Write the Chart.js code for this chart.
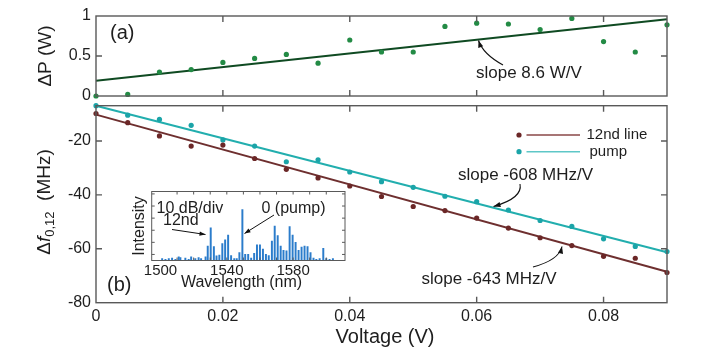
<!DOCTYPE html>
<html>
<head>
<meta charset="utf-8">
<script src="https://cdn.jsdelivr.net/npm/chart.js@4.4.0/dist/chart.umd.min.js"></script>
<style>
  html, body { margin: 0; padding: 0; background: #fff; }
  #wrap { position: relative; width: 706px; height: 352px; overflow: hidden; background: #fff; }
  canvas { position: absolute; left: 0; top: 0; }
</style>
</head>
<body>
<div id="wrap">
  <canvas id="bottomChart" width="706" height="352"></canvas>
  <canvas id="topChart" width="706" height="352"></canvas>
  <canvas id="insetChart" width="706" height="352"></canvas>
</div>
<script>
// voltage steps (V)
const voltage = [0, 0.005, 0.01, 0.015, 0.02, 0.025, 0.03, 0.035, 0.04, 0.045,
                 0.05, 0.055, 0.06, 0.065, 0.07, 0.075, 0.08, 0.085, 0.09];
// (a) power change (W)
const deltaP = [0, 0.02, 0.30, 0.33, 0.42, 0.47, 0.52, 0.41, 0.70, 0.55,
                0.55, 0.87, 0.91, 0.90, 0.83, 0.97, 0.68, 0.55, 0.89];
// (b) frequency shift (MHz)
const line12 = [-9.8, -13.2, -18.1, -21.9, -21.5, -26.5, -30.5, -33.7, -36.7, -40.6,
                -44.3, -45.8, -48.6, -52.3, -55.9, -58.8, -62.8, -63.5, -68.8];
const pump = [-6.9, -10.4, -12.0, -14.2, -19.6, -21.9, -27.7, -27.0, -31.5, -35.1,
              -37.2, -40.5, -42.5, -45.6, -49.5, -51.7, -56.3, -59.1, -61.0];
// linear fits, end points
const fitX = [0, 0.09];
const fitPower = [0.19, 0.96];
const fitLine12 = [-10.2, -68.5];
const fitPump = [-6.9, -61.3];

const xTicks = [0, 0.02, 0.04, 0.06, 0.08];
const topYTicks = [0, 0.5, 1];
const bottomYTicks = [-80, -60, -40, -20];

// inset spectrum
const wavelength = [1501, 1503, 1505, 1507, 1509, 1511, 1512, 1515, 1517, 1518.5, 1521, 1523, 1524.5, 1527.2,
  1528.5, 1530.3, 1532.2, 1533.8, 1535.5, 1537.3, 1539.0, 1540.8, 1542.6, 1544.5, 1546.0, 1547.6,
  1549.4, 1551.1, 1552.9, 1554.7, 1556.5, 1558.2, 1560.0, 1561.8, 1563.6, 1565.3, 1567.2, 1568.9,
  1570.7, 1572.5, 1574.2, 1576.0, 1577.9, 1579.7, 1581.5, 1583.3, 1585.1, 1586.9, 1588.7, 1590.5,
  1592.3, 1594.0, 1596.0, 1598.2, 1600.0, 1602.0, 1604.0];
const intensityDb = [1.5, 1, 1.5, 2, 1, 3, 2.5, 2, 1, 3, 1.5, 2.5, 1.5, 3,
  12, 27, 11.5, 3.8, 4.5, 14, 17, 21, 4, 1.5, 1.5, 6.5,
  42, 5, 5, 2, 6, 13, 13, 9.5, 5, 4, 16, 28.5,
  20.5, 12, 8.5, 8, 28, 21, 15, 8.5, 11, 12, 11.5, 6.5,
  2, 1, 1.5, 10, 1.5, 1, 1.5];
const insetXTicks = [1510, 1520, 1530, 1540, 1550, 1560, 1570, 1580, 1590, 1600];
const insetXLabels = [1500, 1540, 1580];
const insetYTicks = [5, 15, 25, 35, 45, 55];

const FONT = "'Liberation Sans', Arial, Helvetica, sans-serif";
const frameColor = "#595959";
const textColor = "#1e1e1e";
const green = "#238b45";
const greenLine = "#0f4a22";
const brown = "#6b2727";
const brownLine = "#6e2f2f";
const teal = "#1ba4a8";
const tealLine = "#22aeae";
const blue = "#2b7ccb";

Chart.defaults.font.family = FONT;
Chart.defaults.color = textColor;
Chart.defaults.animation = false;

function pts(xs, ys) {
  return xs.map((x, i) => ({ x: x, y: ys[i] }));
}

// box round the plot area with ticks pointing inward on all four sides
function frameTicks(xt, yt, len, width) {
  return {
    id: "frameTicks",
    afterDatasetsDraw(chart) {
      const { ctx, chartArea: a, scales } = chart;
      ctx.save();
      ctx.strokeStyle = frameColor;
      ctx.lineWidth = width;
      ctx.beginPath();
      xt.forEach(v => {
        const px = scales.x.getPixelForValue(v);
        ctx.moveTo(px, a.bottom); ctx.lineTo(px, a.bottom - len);
        ctx.moveTo(px, a.top); ctx.lineTo(px, a.top + len);
      });
      yt.forEach(v => {
        const py = scales.y.getPixelForValue(v);
        ctx.moveTo(a.left, py); ctx.lineTo(a.left + len, py);
        ctx.moveTo(a.right, py); ctx.lineTo(a.right - len, py);
      });
      ctx.stroke();
      ctx.strokeRect(a.left, a.top, a.right - a.left, a.bottom - a.top);
      ctx.restore();
    }
  };
}

// nudge layout padding so the plot area lands where the figure has it
function pinArea(chart, want) {
  const a = chart.chartArea;
  const p = chart.options.layout.padding;
  p.top += want.top - a.top;
  p.bottom += a.bottom - want.bottom;
  p.left += want.left - a.left;
  p.right += a.right - want.right;
  chart.update();
}

function text(ctx, str, x, y, size, align, rot, italic) {
  ctx.save();
  ctx.translate(x, y);
  if (rot) ctx.rotate(rot);
  ctx.font = (italic ? "italic " : "") + size + "px " + FONT;
  ctx.fillStyle = textColor;
  ctx.textAlign = align || "left";
  ctx.textBaseline = "middle";
  ctx.fillText(str, 0, 0);
  ctx.restore();
}

function arrowHead(ctx, fx, fy, ex, ey, len, half) {
  const ang = Math.atan2(ey - fy, ex - fx);
  ctx.beginPath();
  ctx.moveTo(ex, ey);
  ctx.lineTo(ex - len * Math.cos(ang) + half * Math.sin(ang), ey - len * Math.sin(ang) - half * Math.cos(ang));
  ctx.lineTo(ex - len * Math.cos(ang) - half * Math.sin(ang), ey - len * Math.sin(ang) + half * Math.cos(ang));
  ctx.closePath();
  ctx.fill();
}

function curveArrow(ctx, sx, sy, cx, cy, ex, ey) {
  ctx.save();
  ctx.strokeStyle = "#111";
  ctx.fillStyle = "#111";
  ctx.lineWidth = 1.1;
  ctx.beginPath();
  ctx.moveTo(sx, sy);
  ctx.quadraticCurveTo(cx, cy, ex, ey);
  ctx.stroke();
  arrowHead(ctx, cx, cy, ex, ey, 7, 2.6);
  ctx.restore();
}

const topText = {
  id: "topText",
  afterDraw(chart) {
    const ctx = chart.ctx;
    text(ctx, "\u0394P (W)", 46, 56, 19, "center", -Math.PI / 2);
    text(ctx, "(a)", 110, 33, 20);
    text(ctx, "slope 8.6 W/V", 476, 73, 17);
    curveArrow(ctx, 503, 65, 483, 54, 478.5, 40.5);
  }
};

const bottomText = {
  id: "bottomText",
  afterDraw(chart) {
    const ctx = chart.ctx;
    // y title with italic f and subscript
    ctx.save();
    ctx.translate(45, 202);
    ctx.rotate(-Math.PI / 2);
    ctx.fillStyle = textColor;
    ctx.textBaseline = "middle";
    const big = "19px " + FONT, ital = "italic 19px " + FONT, small = "13px " + FONT;
    const parts = [["\u0394", big, 0], ["f", ital, 0], ["0,12", small, 5], ["  (MHz)", big, 0]];
    let total = 0;
    parts.forEach(p => { ctx.font = p[1]; total += ctx.measureText(p[0]).width; });
    let x = -total / 2;
    parts.forEach(p => {
      ctx.font = p[1];
      ctx.fillText(p[0], x, p[2]);
      x += ctx.measureText(p[0]).width;
    });
    ctx.restore();

    text(ctx, "Voltage (V)", 385, 337, 20, "center");
    text(ctx, "(b)", 107, 285, 20);
    text(ctx, "slope -608 MHz/V", 458, 175, 17);
    curveArrow(ctx, 520, 184, 523, 198, 493.5, 206.5);
    text(ctx, "slope -643 MHz/V", 421.5, 279.5, 17);
    curveArrow(ctx, 533, 267, 559, 260, 562, 246.5);

    // legend
    const rows = [[brown, "#8a4747", "12nd line", 135, 586.5], [teal, "#5ec7c7", "pump", 151.7, 589.5]];
    rows.forEach(r => {
      ctx.save();
      ctx.fillStyle = r[0];
      ctx.beginPath();
      ctx.arc(519, r[3], 2.6, 0, Math.PI * 2);
      ctx.fill();
      ctx.strokeStyle = r[1];
      ctx.lineWidth = 1.4;
      ctx.beginPath();
      ctx.moveTo(526.5, r[3]);
      ctx.lineTo(580, r[3]);
      ctx.stroke();
      ctx.restore();
      text(ctx, r[2], r[4], r[3], 15);
    });
  }
};

const insetText = {
  id: "insetText",
  afterDraw(chart) {
    const ctx = chart.ctx;
    ctx.save();
    text(ctx, "Intensity", 140, 226, 16, "center", -Math.PI / 2);
    text(ctx, "Wavelength (nm)", 241.5, 282.5, 16, "center");
    text(ctx, "10 dB/div", 156.5, 208.5, 16);
    text(ctx, "12nd", 163, 221, 16);
    text(ctx, "0 (pump)", 261.5, 208.5, 16);
    ctx.strokeStyle = "#111";
    ctx.fillStyle = "#111";
    ctx.lineWidth = 1;
    ctx.beginPath();
    ctx.moveTo(172, 229.5); ctx.lineTo(205.5, 234.5);
    ctx.moveTo(274, 215); ctx.lineTo(244.5, 233.5);
    ctx.stroke();
    arrowHead(ctx, 172, 229.5, 205.5, 234.5, 6, 2.2);
    arrowHead(ctx, 274, 215, 244.5, 233.5, 6, 2.2);
    ctx.restore();
  }
};

const hiddenGrid = { display: false, drawTicks: false };
const tickFont = { size: 16 };

// (a) top panel
const topChart = new Chart(document.getElementById("topChart"), {
  type: "scatter",
  data: {
    datasets: [
      { data: pts(voltage, deltaP), backgroundColor: green, pointRadius: 2.6, pointBorderWidth: 0, clip: false },
      { data: pts(fitX, fitPower), showLine: true, borderColor: greenLine, borderWidth: 2, pointRadius: 0, clip: false }
    ]
  },
  options: {
    responsive: false,
    layout: { padding: { left: 0, right: 39, top: 16, bottom: 247 } },
    plugins: { legend: { display: false }, tooltip: { enabled: false } },
    scales: {
      x: {
        type: "linear", min: 0, max: 0.09,
        grid: hiddenGrid, border: { display: false },
        ticks: { display: false },
        afterFit: s => { s.height = 9; }
      },
      y: {
        min: 0, max: 1,
        grid: hiddenGrid, border: { display: false },
        ticks: { stepSize: 0.5, includeBounds: false, padding: 5, font: tickFont,
                 callback: v => topYTicks.includes(v) ? String(v) : "" },
        afterFit: s => { s.width = 96; }
      }
    }
  },
  plugins: [frameTicks([0.02, 0.04, 0.06, 0.08], [0.5], 6, 1.4), topText]
});
pinArea(topChart, { left: 96, right: 667, top: 16, bottom: 96 });

// (b) bottom panel
const bottomChart = new Chart(document.getElementById("bottomChart"), {
  type: "scatter",
  data: {
    datasets: [
      { data: pts(voltage, line12), backgroundColor: brown, pointRadius: 2.6, pointBorderWidth: 0, clip: false },
      { data: pts(voltage, pump), backgroundColor: teal, pointRadius: 2.6, pointBorderWidth: 0, clip: false },
      { data: pts(fitX, fitLine12), showLine: true, borderColor: brownLine, borderWidth: 2, pointRadius: 0, clip: false },
      { data: pts(fitX, fitPump), showLine: true, borderColor: tealLine, borderWidth: 2, pointRadius: 0, clip: false }
    ]
  },
  options: {
    responsive: false,
    layout: { padding: { left: 0, right: 39, top: 105.7, bottom: 0 } },
    plugins: { legend: { display: false }, tooltip: { enabled: false } },
    scales: {
      x: {
        type: "linear", min: 0, max: 0.09,
        grid: hiddenGrid, border: { display: false },
        ticks: { stepSize: 0.02, includeBounds: false, autoSkip: false, maxRotation: 0, padding: 4, font: tickFont,
                 callback: v => v === 0 ? "0" : v.toFixed(2) },
        afterFit: s => { s.height = 49.3; }
      },
      y: {
        min: -80, max: -6.9,
        grid: hiddenGrid, border: { display: false },
        ticks: { stepSize: 20, includeBounds: false, padding: 5, font: tickFont,
                 callback: v => bottomYTicks.includes(v) ? String(v) : "" },
        afterFit: s => { s.width = 96; }
      }
    }
  },
  plugins: [frameTicks([0.02, 0.04, 0.06, 0.08], [-60, -40, -20], 6, 1.4), bottomText]
});
pinArea(bottomChart, { left: 96, right: 667, top: 105.7, bottom: 302.7 });

// inset spectrum
const insetChart = new Chart(document.getElementById("insetChart"), {
  type: "bar",
  data: {
    datasets: [{ data: pts(wavelength, intensityDb), backgroundColor: blue, barThickness: 1.3 }]
  },
  options: {
    responsive: false,
    layout: { padding: { left: 0, right: 361, top: 191.5, bottom: 0 } },
    plugins: { legend: { display: false }, tooltip: { enabled: false } },
    scales: {
      x: {
        type: "linear", min: 1500, max: 1606,
        grid: hiddenGrid, border: { display: false },
        ticks: { stepSize: 10, autoSkip: false, maxRotation: 0, padding: 1, font: { size: 15 },
                 callback: v => insetXLabels.includes(v) ? String(v) : "" },
        afterFit: s => { s.height = 91.5; }
      },
      y: {
        min: 0, max: 57,
        grid: hiddenGrid, border: { display: false },
        ticks: { display: false },
        afterFit: s => { s.width = 151.7; }
      }
    }
  },
  plugins: [frameTicks(insetXTicks, insetYTicks, 3, 1), insetText]
});
pinArea(insetChart, { left: 151.7, right: 345, top: 191.5, bottom: 260.5 });
</script>
</body>
</html>
